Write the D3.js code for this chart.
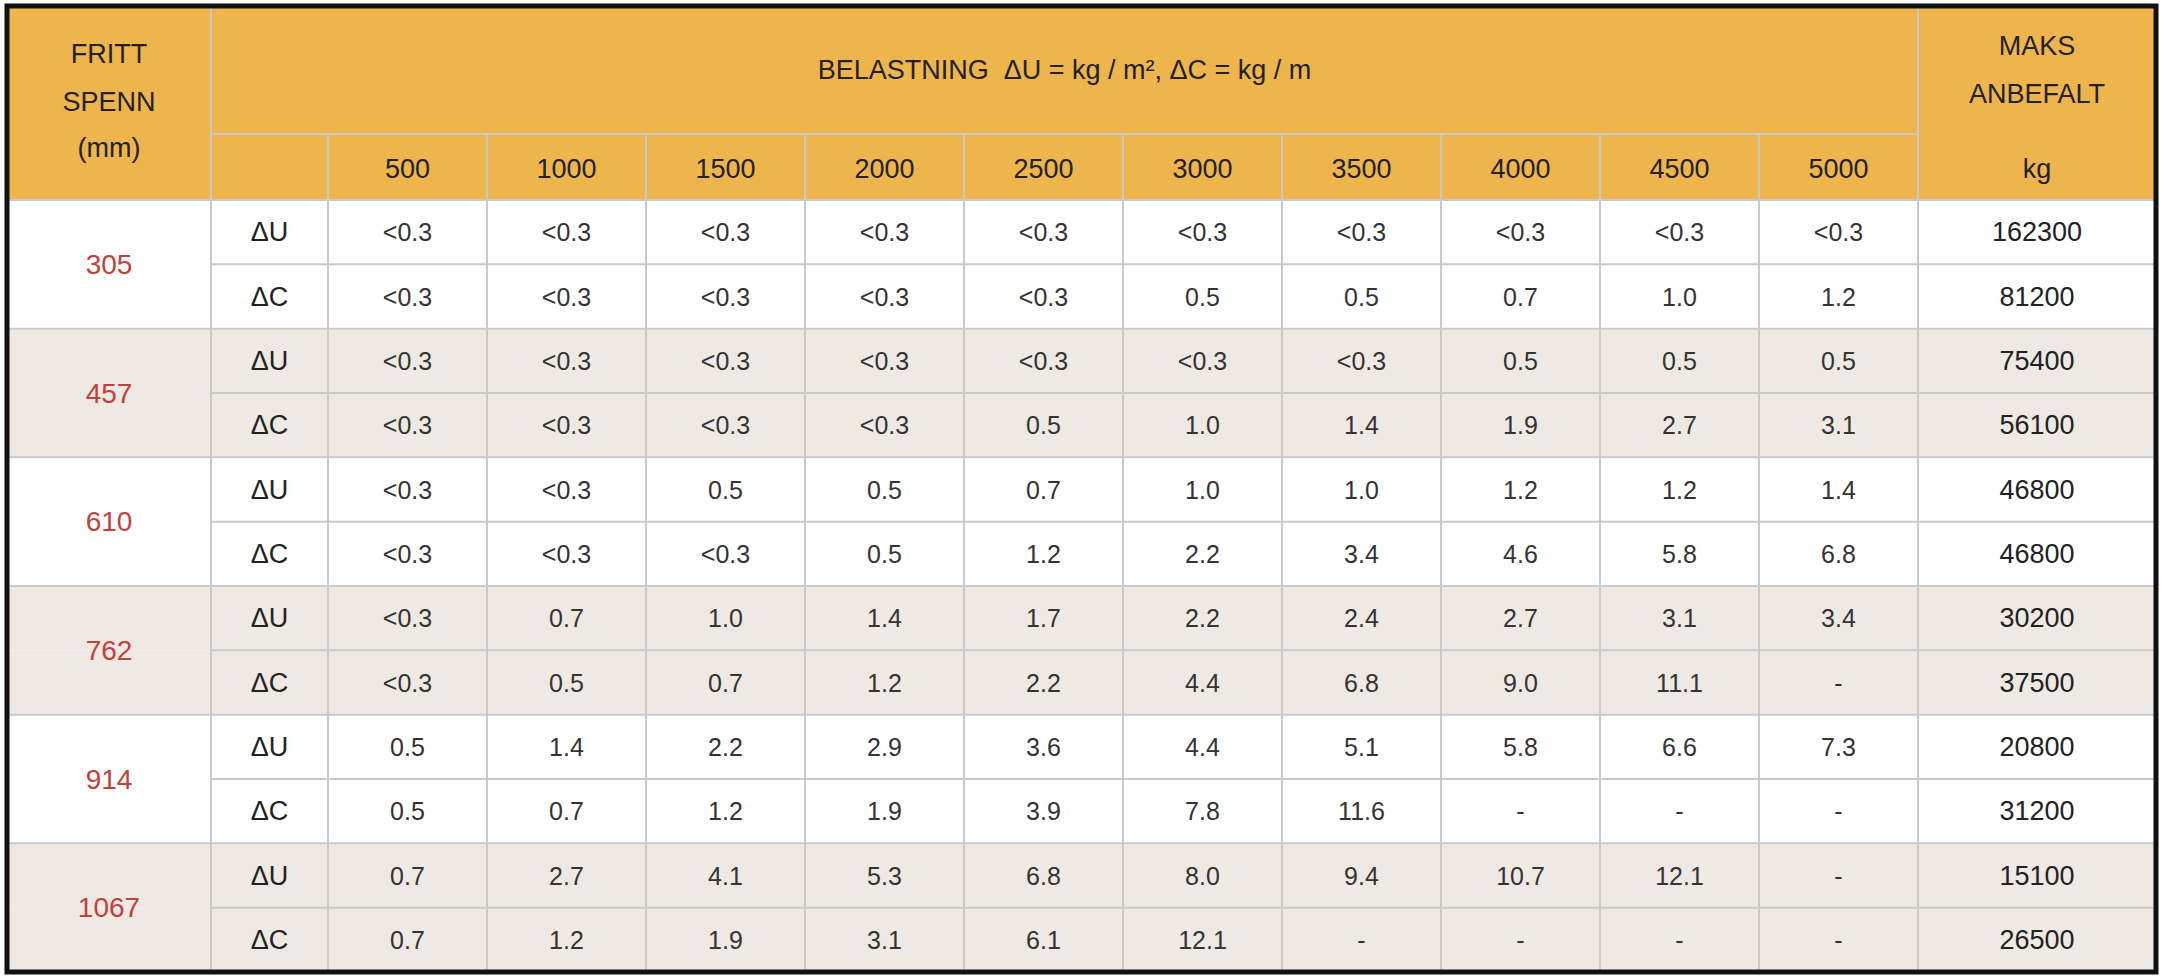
<!DOCTYPE html>
<html><head><meta charset="utf-8">
<script src="https://cdn.jsdelivr.net/npm/d3@7"></script>
<style>body{margin:0;background:#fff}</style>
</head><body>
<script>
var loads = ["500","1000","1500","2000","2500","3000","3500","4000","4500","5000"];
var spans = ["305","457","610","762","914","1067"];
var kinds = ["ΔU","ΔC"];
var values = [
  ["<0.3","<0.3","<0.3","<0.3","<0.3","<0.3","<0.3","<0.3","<0.3","<0.3"],
  ["<0.3","<0.3","<0.3","<0.3","<0.3","0.5","0.5","0.7","1.0","1.2"],
  ["<0.3","<0.3","<0.3","<0.3","<0.3","<0.3","<0.3","0.5","0.5","0.5"],
  ["<0.3","<0.3","<0.3","<0.3","0.5","1.0","1.4","1.9","2.7","3.1"],
  ["<0.3","<0.3","0.5","0.5","0.7","1.0","1.0","1.2","1.2","1.4"],
  ["<0.3","<0.3","<0.3","0.5","1.2","2.2","3.4","4.6","5.8","6.8"],
  ["<0.3","0.7","1.0","1.4","1.7","2.2","2.4","2.7","3.1","3.4"],
  ["<0.3","0.5","0.7","1.2","2.2","4.4","6.8","9.0","11.1","-"],
  ["0.5","1.4","2.2","2.9","3.6","4.4","5.1","5.8","6.6","7.3"],
  ["0.5","0.7","1.2","1.9","3.9","7.8","11.6","-","-","-"],
  ["0.7","2.7","4.1","5.3","6.8","8.0","9.4","10.7","12.1","-"],
  ["0.7","1.2","1.9","3.1","6.1","12.1","-","-","-","-"]
];
var maxLoad = ["162300","81200","75400","56100","46800","46800","30200","37500","20800","31200","15100","26500"];

var W = 2164, H = 980;
var L = 7, R = 2156, T = 6, B = 972;
var c1 = 211, c2 = 328, c3 = 1918, h1 = 134, h2 = 200;
var font = "Liberation Sans, Arial, sans-serif";
var orange = "#efb54d", alt = "#eeeae3", grid = "#c9c9c9";

var svg = d3.select("body").append("svg").attr("width", W).attr("height", H);
var x = d3.scaleBand().domain(loads).range([c2, c3]);
var rowIds = d3.range(spans.length * 2);
var y = d3.scaleBand().domain(rowIds).range([h2, B]);

// header background
svg.append("rect").attr("x", L).attr("y", T).attr("width", R - L).attr("height", h2 - T).attr("fill", orange);
// body row backgrounds
svg.selectAll("rect.row").data(rowIds).enter().append("rect")
  .attr("x", L).attr("y", d => y(d)).attr("width", R - L).attr("height", y.bandwidth())
  .attr("fill", d => Math.floor(d / 2) % 2 ? alt : "#fff");

// grid lines
var g = svg.append("g").attr("stroke", grid).attr("stroke-width", 2);
g.append("line").attr("x1", c1).attr("x2", c3).attr("y1", h1).attr("y2", h1);
[c1, c3].forEach(v => g.append("line").attr("x1", v).attr("x2", v).attr("y1", T).attr("y2", B));
loads.forEach(d => g.append("line").attr("x1", x(d)).attr("x2", x(d)).attr("y1", h1).attr("y2", B));
rowIds.forEach(d => {
  g.append("line").attr("x1", d % 2 === 0 ? L : c1).attr("x2", R).attr("y1", y(d)).attr("y2", y(d));
});
svg.append("rect").attr("x", L).attr("y", T).attr("width", R - L).attr("height", B - T)
  .attr("fill", "none").attr("stroke", "#111").attr("stroke-width", 5);

function txt(tx, ty, s, size, color) {
  svg.append("text").attr("x", tx).attr("y", ty).attr("text-anchor", "middle")
    .attr("dominant-baseline", "central").attr("font-family", font)
    .attr("xml:space", "preserve").style("white-space", "pre")
    .attr("font-size", size).attr("fill", color || "#222").text(s);
}
// headers
txt((L + c1) / 2, 54, "FRITT", 27);
txt((L + c1) / 2, 102, "SPENN", 27);
txt((L + c1) / 2, 148, "(mm)", 27);
txt((c1 + c3) / 2, 70, "BELASTNING  ΔU = kg / m², ΔC = kg / m", 27);
txt((c3 + R) / 2, 46, "MAKS", 27);
txt((c3 + R) / 2, 94, "ANBEFALT", 27);
txt((c3 + R) / 2, 169, "kg", 27);
loads.forEach(d => txt(x(d) + x.bandwidth() / 2, 169, d, 27));

// body
spans.forEach((s, i) => txt((L + c1) / 2, y(i * 2) + y.bandwidth(), s, 28, "#c2413b"));
rowIds.forEach(r => {
  var cy = y(r) + y.bandwidth() / 2;
  txt((c1 + c2) / 2, cy, kinds[r % 2], 27);
  values[r].forEach((v, j) => txt(x(loads[j]) + x.bandwidth() / 2, cy, v, 25, "#333"));
  txt((c3 + R) / 2, cy, maxLoad[r], 27);
});
</script>
</body></html>
